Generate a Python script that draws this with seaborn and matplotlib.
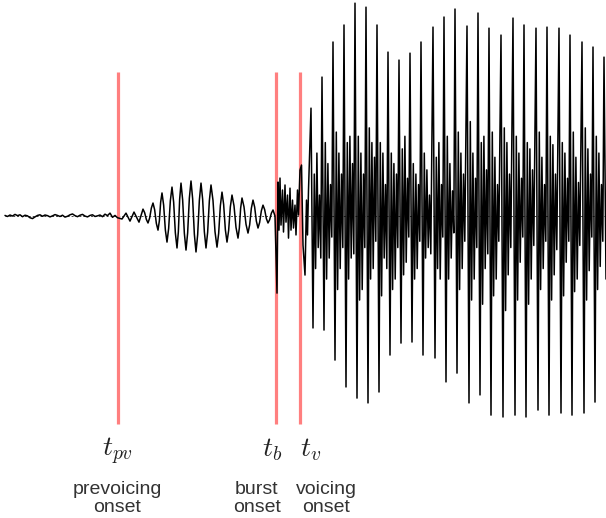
import numpy as np
import pandas as pd
import matplotlib
matplotlib.use("Agg")
import matplotlib.pyplot as plt
import seaborn as sns

# ---------------- data (time in ms, amplitude in arbitrary units) ----------------
noise_t = list(np.arange(0.0, 22.6, 0.5))
noise_a = [0.3, -0.2, 0.5, 0.0, 0.8, 0.2, 0.6, -0.3, 0.4, 0.1, -0.8, -1.2, -0.4, 0.3,
           0.6, -0.1, 0.5, 0.2, -0.4, 0.1, 0.7, 0.3, -0.2, 0.4, -0.5, -0.1, 0.6, 1.0,
           0.2, -0.3, 0.4, 0.8, 0.0, -0.4, 0.3, 0.6, -0.2, 0.1, 0.5, -0.3, 0.9, 0.2,
           1.4, -0.6, 0.3, -0.8]

prevoice_t = [23.4, 24.2, 25.0, 25.8, 26.8, 27.6,
              27.93, 28.27, 28.6, 28.93, 29.27, 29.6, 29.93, 30.27, 30.6,
              30.87, 31.13, 31.4, 31.73, 32.07, 32.4, 32.73, 33.07, 33.4,
              33.73, 34.07, 34.4, 34.67, 34.93, 35.2, 35.53, 35.87, 36.2,
              36.53, 36.87, 37.2, 37.53, 37.87, 38.2, 38.53, 38.87, 39.2,
              39.53, 39.87, 40.2, 40.53, 40.87, 41.2, 41.6, 42.0, 42.4,
              42.73, 43.07, 43.4, 43.73, 44.07, 44.4, 44.73, 45.07, 45.4,
              45.8, 46.2, 46.6, 46.87, 47.13, 47.4, 47.8, 48.2, 48.6,
              48.93, 49.27, 49.6, 49.93, 50.27, 50.6, 50.93, 51.27, 51.6,
              51.93, 52.27, 52.6, 52.93, 53.27, 53.6]
prevoice_a = [-1.4, 1.4, -2.4, 1.9, -2.9, 3.3,
              1.6, -1.6, -3.3, -0.9, 3.8, 6.2, 3.0, -3.5, -6.7,
              -2.3, 6.6, 11.0, 5.2, -6.6, -12.4, -5.9, 7.3, 13.8,
              6.6, -8.0, -15.2, -7.5, 8.0, 15.7, 7.7, -8.2, -16.2,
              -8.0, 8.5, 16.7, 8.2, -8.6, -17.1, -8.9, 7.5, 15.7,
              8.0, -7.5, -15.2, -7.7, 7.3, 14.8, 7.4, -7.4, -14.8,
              -8.3, 4.9, 11.4, 5.5, -6.5, -12.4, -6.8, 4.4, 10.0,
              4.9, -5.4, -10.5, -5.7, 3.8, 8.6, 4.4, -3.9, -8.1,
              -4.2, 3.7, 7.6, 4.3, -2.4, -5.7, -3.0, 2.5, 5.2,
              3.1, -1.2, -3.3, -1.75, 1.35, 2.9]

burst_t = [54.0, 54.4, 54.6, 54.8, 55.0, 55.2, 55.5, 55.7, 56.0, 56.2, 56.5, 56.7, 57.0,
           57.2, 57.5, 57.7, 58.0, 58.2, 58.5, 58.7, 59.0, 59.3, 59.6, 60.0, 60.3, 60.5, 60.7]
burst_a = [0.0, -36.7, 16.2, -6.7, 18.1, -4.3, 12.4, -7.6, 14.8, -2.9, 10.0, -10.5, 13.3,
           -6.7, 7.6, -5.7, 5.2, -9.0, 12.4, 0.5, 21.9, 24.3, -13.8, -28.1, 7.6, -9.0, 12.4]

voice_t = [
    61.2, 61.6, 61.86, 62.12, 62.38, 62.64, 62.9, 63.16,
    63.4, 63.8, 64.06, 64.32, 64.58, 64.84, 65.1, 65.36,
    65.6, 66.0, 66.26, 66.52, 66.78, 67.04, 67.3, 67.56,
    67.8, 68.2, 68.46, 68.72, 68.98, 69.24, 69.5, 69.76,
    70.0, 70.4, 70.66, 70.92, 71.18, 71.44, 71.7, 71.96,
    72.2, 72.6, 72.86, 73.12, 73.38, 73.64, 73.9, 74.16,
    74.4, 74.8, 75.06, 75.32, 75.58, 75.84, 76.1, 76.36,
    76.6, 77.0, 77.26, 77.52, 77.78, 78.04, 78.3, 78.56,
    78.8, 79.2, 79.46, 79.72, 79.98, 80.24, 80.5, 80.76,
    81.0, 81.4, 81.66, 81.92, 82.18, 82.44, 82.7, 82.96,
    83.2, 83.6, 83.86, 84.12, 84.38, 84.64, 84.9, 85.16,
    85.6, 86.0, 86.26, 86.52, 86.78, 87.04, 87.3, 87.56,
    87.8, 88.2, 88.46, 88.72, 88.98, 89.24, 89.5, 89.76,
    90.0, 90.4, 90.66, 90.92, 91.18, 91.44, 91.7, 91.96,
    92.4, 92.8, 93.06, 93.32, 93.58, 93.84, 94.1, 94.36,
    94.6, 95.0, 95.26, 95.52, 95.78, 96.04, 96.3, 96.56,
    96.8, 97.2, 97.46, 97.72, 97.98, 98.24, 98.5, 98.76,
    99.2, 99.6, 99.86, 100.12, 100.38, 100.64, 100.9, 101.16,
    101.6, 102.0, 102.26, 102.52, 102.78, 103.04, 103.3, 103.56,
    103.8, 104.2, 104.46, 104.72, 104.98, 105.24, 105.5, 105.76,
    106.2, 106.6, 106.86, 107.12, 107.38, 107.64, 107.9, 108.16,
    108.4, 108.8, 109.06, 109.32, 109.58, 109.84, 110.1, 110.36,
    110.8, 111.2, 111.46, 111.72, 111.98, 112.24, 112.5, 112.76,
    113.0, 113.4, 113.66, 113.92, 114.18, 114.44, 114.7, 114.96,
    115.4, 115.8, 116.06, 116.32, 116.58, 116.84, 117.1, 117.36,
    117.6, 118.0, 118.26, 118.52, 118.78, 119.04, 119.3, 119.56,
    119.8, 120.2,
]
voice_a = [
    51.4, -53.3, 20, -25, 30, -15, 10, -20,
    66.2, -54.3, 35, -30, 25, -20, 15, -10,
    82.9, -68.6, 40, -35, 30, -25, 20, -15,
    91.0, -81.4, 35, -30, 38, -20, 25, -18,
    101.4, -86.7, 38, -40, 30, -35, 20, -15,
    99.5, -89.0, 42, -30, 35, -25, 28, -12,
    91.0, -83.8, 35, -38, 30, -20, 15, -25,
    78.1, -66.2, 30, -35, 25, -30, 20, -15,
    74.3, -60.5, 32, -28, 38, -22, 18, -10,
    77.6, -60.0, 25, -30, 20, -25, 15, -12,
    82.9, -66.2, 30, -20, 22, -15, 10, -18,
    90.0, -67.6, 28, -25, 35, -30, 15, -10,
    94.8, -79.0, 38, -30, 25, -20, 12, -8,
    98.6, -74.8, 40, -35, 30, -25, 20, -12,
    90.5, -89.0, 45, -40, 30, -30, 18, -15,
    96.7, -85.2, 35, -42, 38, -25, 22, -18,
    89.5, -94.8, 40, -38, 28, -30, 15, -12,
    86.2, -95.7, 42, -45, 35, -28, 20, -15,
    94.3, -94.8, 38, -40, 30, -22, 18, -10,
    91.0, -95.7, 35, -42, 32, -30, 22, -14,
    89.5, -92.4, 40, -35, 28, -25, 15, -12,
    90.0, -94.8, 38, -40, 34, -28, 20, -16,
    89.5, -93.8, 35, -38, 30, -22, 18, -12,
    86.2, -94.8, 40, -36, 28, -30, 16, -14,
    82.9, -93.8, 42, -40, 32, -26, 20, -10,
    80.5, -88.6, 38, -35, 30, -24, 15, -12,
    75.7, -30,
]

event_times = [22.6, 54.2, 59.0]
event_symbols = [r"$t_{pv}$", r"$t_b$", r"$t_v$"]
event_symbol_x = [22.4, 53.4, 61.2]
event_label_top = ["prevoicing", "burst", "voicing"]
event_label_bottom = ["onset", "onset", "onset"]
event_label_x = [22.4, 50.4, 64.2]

# ---------------- plot ----------------
sns.set_theme(style="white")
plt.rcParams["font.family"] = ["Liberation Sans", "DejaVu Sans"]
plt.rcParams["mathtext.fontset"] = "cm"

df = pd.DataFrame({
    "t": list(noise_t) + prevoice_t + burst_t + voice_t,
    "a": noise_a + prevoice_a + burst_a + voice_a,
})

fig = plt.figure(figsize=(6.06, 5.18), dpi=100)
ax = fig.add_axes([0, 0, 1, 1])

ax.axhline(0, xmin=0.008, xmax=1.0, color="#444444", lw=0.7,
           ls=(0, (2.0, 2.0)), zorder=1)
ax.vlines(event_times, -99.0, 68.6, color="#ff7f7f", lw=2.3, zorder=1)

sns.lineplot(data=df, x="t", y="a", ax=ax, color="black", lw=1.1,
             estimator=None, sort=False, zorder=3)

for xs, s in zip(event_symbol_x, event_symbols):
    ax.text(xs, -114.6, s, ha="center", va="baseline", fontsize=20, color="#222222")
for xl, top, bot in zip(event_label_x, event_label_top, event_label_bottom):
    ax.text(xl, -132.4, top, ha="center", va="baseline", fontsize=14, color="#333333")
    ax.text(xl, -141.0, bot, ha="center", va="baseline", fontsize=14, color="#333333")

ax.set_xlim(-1.0, 120.2)
ax.set_ylim(-143.8, 102.9)
ax.axis("off")

fig.savefig("out.png", dpi=100)
